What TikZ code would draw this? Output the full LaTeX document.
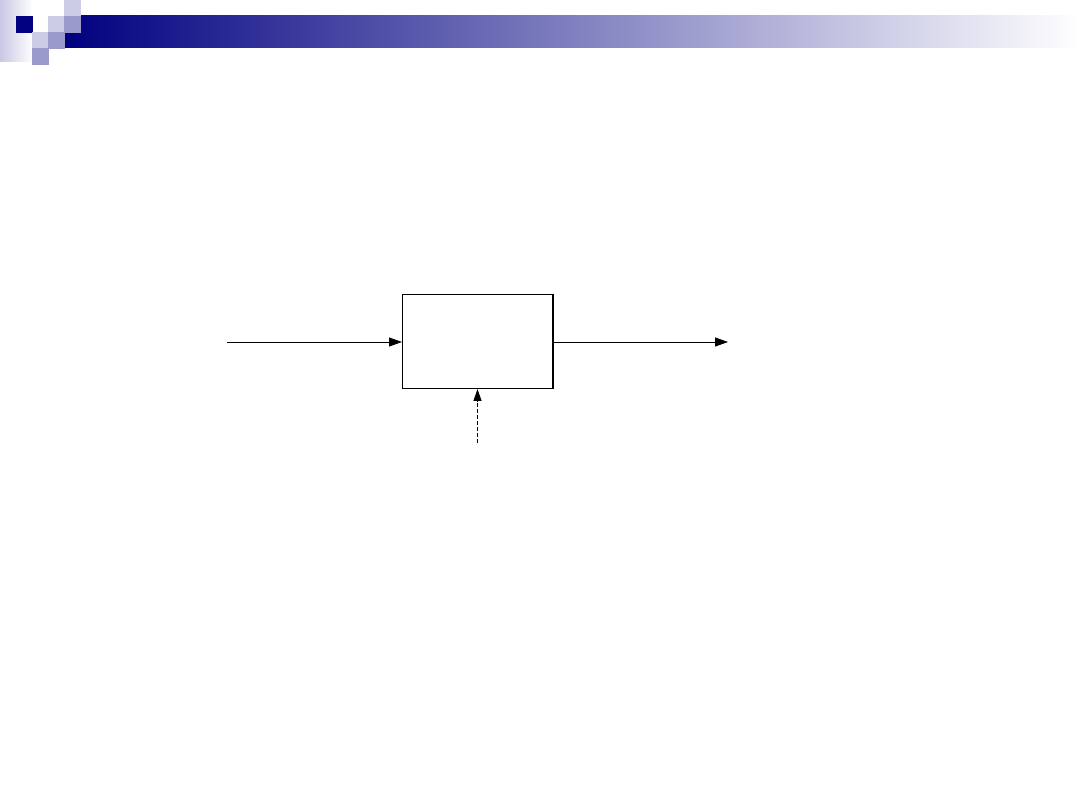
\documentclass[tikz,border=0pt]{standalone}
\usetikzlibrary{arrows.meta}
\definecolor{navyc}{RGB}{0,0,128}
\definecolor{lightc}{RGB}{204,204,230}
\definecolor{midc}{RGB}{153,153,204}
\definecolor{stripc}{RGB}{200,200,228}
\begin{document}
\begin{tikzpicture}[x=1pt,y=-1pt,
  sq/.style={draw=white,line width=0.6pt},
  blk/.style={draw=black,line width=1pt,minimum width=150pt,minimum height=94pt,inner sep=0pt},
  arr/.style={line width=0.9pt,-{Triangle[length=13pt,width=9pt]}},
  ctrl/.style={line width=1.3pt,dash pattern=on 4pt off 2pt,-{Triangle[length=12pt,width=8pt]}}]
\useasboundingbox (0,0) rectangle (1080,810);
\fill[white] (0,0) rectangle (1080,810);
% header decoration
\shade[left color=stripc,right color=white] (0,0) rectangle (33,62);
\shade[left color=navyc,right color=white] (64,16) rectangle (1080,48);
\fill[sq,navyc] (16,16) rectangle (32,32);
\fill[sq,lightc] (32,32) rectangle (48,48);
\fill[sq,midc] (32,48) rectangle (48,64);
\fill[sq,lightc] (48,16) rectangle (64,32);
\fill[sq,midc] (48,32) rectangle (64,48);
\fill[sq,lightc] (64,0) rectangle (80,16);
\fill[sq,midc] (64,16) rectangle (80,32);
% diagram
\node[blk] (box) at (477.5,341.5) {};
\draw[line width=1.8pt] (box.north east) -- (box.south east);
\coordinate (in) at (227,342);
\coordinate (out) at (728,342);
\coordinate (ctl) at (477.5,443);
\draw[arr] (in) -- (box.west |- in);
\draw[arr] (box.east |- out) -- (out);
\draw[ctrl] (ctl) -- (box.south);
\end{tikzpicture}
\end{document}
